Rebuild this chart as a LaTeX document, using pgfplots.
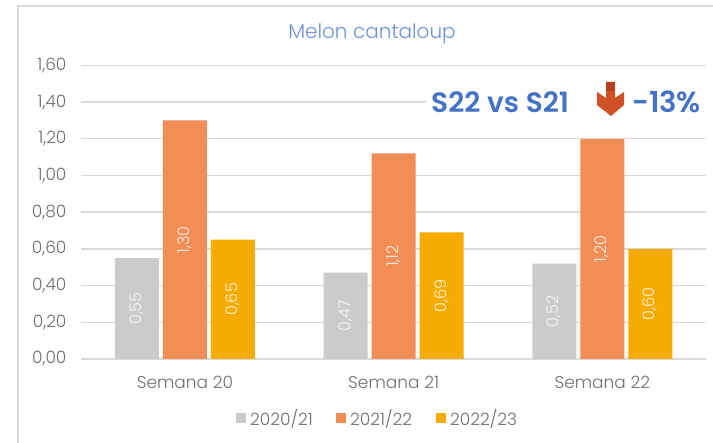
\documentclass[border=0pt]{standalone}
\usepackage{fontspec}
\setmainfont{Poppins Light}[BoldFont={Poppins SemiBold}]
\usepackage{pgfplots}
\pgfplotsset{compat=1.18}
\definecolor{cgrey}{HTML}{CBCBCB}
\definecolor{corange}{HTML}{F28E55}
\definecolor{cyellow}{HTML}{F5AB00}
\definecolor{cgrid}{HTML}{D9D9D9}
\definecolor{ctick}{HTML}{707070}
\definecolor{ctitle}{HTML}{6E93D6}
\definecolor{cnote}{HTML}{4472C4}
\definecolor{carrow}{HTML}{CF5226}
\definecolor{carrowtop}{HTML}{B5401F}
\begin{document}
\begin{tikzpicture}[x=1pt,y=1pt]
\path[use as bounding box] (0,0) rectangle (713,443);
\fill[white] (0,0) rectangle (713,443);
\draw[cgrid,line width=1.4pt] (18,0) -- (18,437) -- (713,437);
\begin{axis}[
  at={(81pt,84pt)},anchor=south west,
  width=625pt,height=293.6pt,scale only axis,
  xmin=-0.498,xmax=2.497,ymin=0,ymax=1.6,
  ybar=4pt,bar width=44pt,
  axis line style={draw=none},
  major tick style={draw=none},
  ymajorgrids,grid style={cgrid,line width=1.4pt},
  xtick={0,1,2},xticklabels={Semana 20,Semana 21,Semana 22},
  ytick={0,0.2,0.4,0.6,0.8,1,1.2,1.4,1.6},
  /pgf/number format/assume math mode=true,
  /pgf/number format/.cd,fixed,fixed zerofill,precision=2,use comma,1000 sep={},
  /pgfplots/.cd,
  tick label style={font=\fontsize{17}{19}\selectfont,text=ctick},
  yticklabel style={xshift=-11pt},
  xticklabel style={yshift=-9pt},
  nodes near coords,
  visualization depends on={y/2\as\halfy},
  every node near coord/.append style={shift={(axis direction cs:0,-\halfy)},rotate=90,anchor=center,text=white,opacity=0.85,
     font=\fontsize{16}{18}\selectfont,inner sep=0pt},
]
\addplot[fill=cgrey,draw=none] coordinates {(0,0.55)(1,0.47)(2,0.52)};
\addplot[fill=corange,draw=none] coordinates {(0,1.30)(1,1.12)(2,1.20)};
\addplot[fill=cyellow,draw=none] coordinates {(0,0.65)(1,0.69)(2,0.60)};
\end{axis}
\fill[white] (426,308) rectangle (708,373);
\node[text=ctitle,font=\fontsize{20}{22}\selectfont] at (372,409) {Melon cantaloup};
\node[text=cnote,font=\bfseries\fontsize{28}{31}\selectfont,anchor=west,inner sep=0pt] at (431,341) {S22 vs S21};
\node[text=cnote,font=\bfseries\fontsize{29}{32}\selectfont,anchor=west,inner sep=0pt] at (632,341) {-13\%};
\fill[carrow] (606,361) -- (615,361) -- (615,345) -- (624,351) -- (624,338) -- (611,327) -- (597,338) -- (597,351) -- (606,345) -- cycle;
\fill[carrowtop] (606,361) rectangle (615,352);
\fill[cgrey] (236,20) rectangle (246,30);
\node[text=ctick,font=\fontsize{17}{19}\selectfont,anchor=west,inner sep=0pt] at (250,24) {2020/21};
\fill[corange] (336,20) rectangle (346,30);
\node[text=ctick,font=\fontsize{17}{19}\selectfont,anchor=west,inner sep=0pt] at (350,24) {2021/22};
\fill[cyellow] (436,20) rectangle (446,30);
\node[text=ctick,font=\fontsize{17}{19}\selectfont,anchor=west,inner sep=0pt] at (450,24) {2022/23};
\end{tikzpicture}
\end{document}
